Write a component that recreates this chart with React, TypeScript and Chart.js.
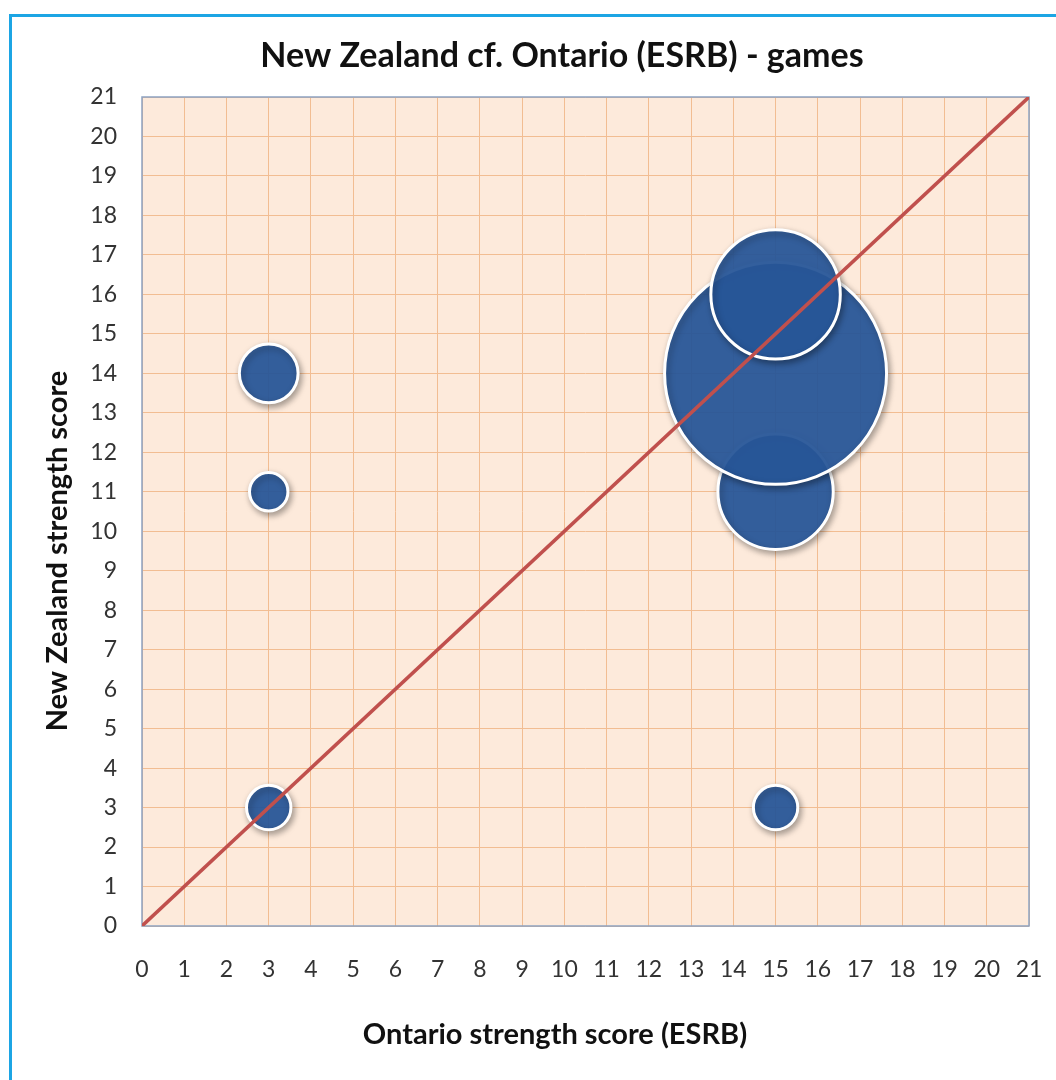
import React, { useEffect, useRef } from "react";
import { Chart, registerables } from "chart.js";

Chart.register(...registerables);

// Ontario (ESRB) score vs New Zealand score, bubble size = number of games
const ontarioScore = [3, 3, 3, 15, 15, 15, 15];
const newZealandScore = [14, 11, 3, 3, 11, 14, 16];
const gameCount = [7, 3, 4, 4, 27, 100, 34];

// parity line
const parityLine = [
  { x: 0, y: 0 },
  { x: 21, y: 21 },
];

const TITLE = "New Zealand cf. Ontario (ESRB) - games";
const X_TITLE = "Ontario strength score (ESRB)";
const Y_TITLE = "New Zealand strength score";
const AXIS_MIN = 0;
const AXIS_MAX = 21;

const W = 1056;
const H = 1080;
const FONT = "Lato, 'Open Sans', 'DejaVu Sans', sans-serif";
const R_MAX = 111;

const maxCount = Math.max(...gameCount);
const bubbleData = ontarioScore.map((x, i) => ({
  x,
  y: newZealandScore[i],
  r: R_MAX * Math.sqrt(gameCount[i] / maxCount),
}));

const framePlugin = {
  id: "frame",
  beforeDraw(chart: any) {
    const { ctx, chartArea } = chart;
    ctx.save();
    ctx.fillStyle = "#ffffff";
    ctx.fillRect(0, 0, W, H);
    // outer frame
    ctx.strokeStyle = "#1ca5e4";
    ctx.lineWidth = 3;
    ctx.strokeRect(10.5, 15.5, W + 20, H + 20);
    // plot area fill
    ctx.fillStyle = "#fdeadb";
    ctx.fillRect(
      chartArea.left,
      chartArea.top,
      chartArea.right - chartArea.left,
      chartArea.bottom - chartArea.top
    );
    ctx.restore();
  },
  beforeDatasetsDraw(chart: any) {
    const { ctx, chartArea } = chart;
    ctx.save();
    ctx.strokeStyle = "#8da3c2";
    ctx.lineWidth = 1.5;
    ctx.strokeRect(
      chartArea.left,
      chartArea.top,
      chartArea.right - chartArea.left,
      chartArea.bottom - chartArea.top
    );
    ctx.restore();
  },
  beforeDatasetDraw(chart: any, args: any) {
    const ds = chart.data.datasets[args.index];
    if (ds.type === "bubble") {
      const ctx = chart.ctx;
      ctx.save();
      ctx.shadowColor = "rgba(0,0,0,0.35)";
      ctx.shadowBlur = 6;
      ctx.shadowOffsetX = 2;
      ctx.shadowOffsetY = 3;
    }
  },
  afterDatasetDraw(chart: any, args: any) {
    const ds = chart.data.datasets[args.index];
    if (ds.type === "bubble") {
      chart.ctx.restore();
    }
  },
  afterDraw(chart: any) {
    const { ctx } = chart;
    ctx.save();
    ctx.fillStyle = "#111111";
    ctx.textAlign = "center";
    ctx.textBaseline = "alphabetic";
    ctx.font = `bold 34px ${FONT}`;
    ctx.fillText(TITLE, 562, 67);
    ctx.font = `bold 29px ${FONT}`;
    ctx.fillText(X_TITLE, 555, 1044);
    ctx.translate(67, 551);
    ctx.rotate(-Math.PI / 2);
    ctx.fillText(Y_TITLE, 0, 0);
    ctx.restore();
  },
};

export default function App() {
  const canvasRef = useRef<HTMLCanvasElement | null>(null);

  useEffect(() => {
    const canvas = canvasRef.current;
    if (!canvas) return;
    const tickFont = { family: FONT, size: 23 };
    const chart = new Chart(canvas, {
      type: "bubble",
      data: {
        datasets: [
          {
            type: "line",
            label: "parity",
            data: parityLine,
            borderColor: "#c0504d",
            borderWidth: 3.5,
            pointRadius: 0,
            fill: false,
            order: 0,
          } as any,
          {
            type: "bubble",
            label: "games",
            data: bubbleData,
            backgroundColor: "rgba(40,88,155,0.92)",
            borderColor: "#ffffff",
            borderWidth: 3,
            order: 1,
          } as any,
        ],
      },
      options: {
        responsive: false,
        animation: false,
        events: [],
        layout: {
          autoPadding: false,
          padding: { left: 60, right: 27, top: 97, bottom: 94 },
        },
        plugins: {
          legend: { display: false },
          title: { display: false },
          tooltip: { enabled: false },
        },
        scales: {
          x: {
            type: "linear",
            min: AXIS_MIN,
            max: AXIS_MAX,
            afterFit: (s: any) => {
              s.height = 60;
              s.paddingLeft = 0;
              s.paddingRight = 0;
            },
            ticks: {
              stepSize: 1,
              padding: 30,
              color: "#333333",
              font: tickFont,
              maxRotation: 0,
              autoSkip: false,
            },
            grid: { color: "#f2bd92", lineWidth: 1, drawTicks: false },
            border: { display: false },
          },
          y: {
            type: "linear",
            min: AXIS_MIN,
            max: AXIS_MAX,
            afterFit: (s: any) => {
              s.width = 82;
              s.paddingTop = 0;
              s.paddingBottom = 0;
            },
            ticks: {
              stepSize: 1,
              padding: 25,
              color: "#333333",
              font: tickFont,
              autoSkip: false,
            },
            grid: { color: "#f2bd92", lineWidth: 1, drawTicks: false },
            border: { display: false },
          },
        },
      },
      plugins: [framePlugin],
    });
    return () => chart.destroy();
  }, []);

  return (
    <div style={{ position: "absolute", left: 0, top: 0, width: W, height: H }}>
      <canvas ref={canvasRef} width={W} height={H} />
    </div>
  );
}
